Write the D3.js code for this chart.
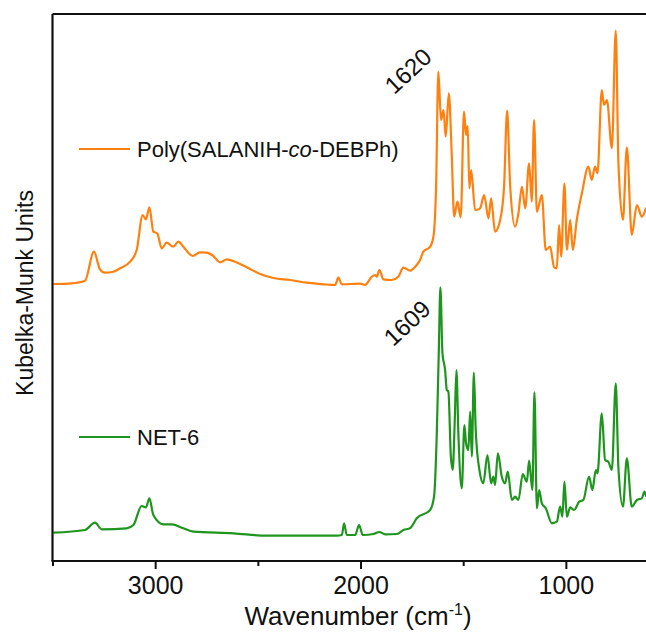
<!DOCTYPE html>
<html>
<head>
<meta charset="utf-8">
<script src="https://cdn.jsdelivr.net/npm/d3@7"></script>
<style>
  html, body { margin: 0; padding: 0; background: #fff; }
  svg { display: block; }
  text { font-family: "Liberation Sans", Arial, sans-serif; fill: #111; }
</style>
</head>
<body>
<svg id="chart" width="646" height="633"></svg>
<script>
// ---- Data (wavenumber in cm^-1, Kubelka-Munk units, offset-stacked) ----
const polyWavenumber = [3496,3406,3342,3298,3269,3244,3204,3171,3122,3090,3061,3045,3028,3009,2990,2968,2944,2912,2887,2863,2817,2782,2749,2717,2684,2651,2611,2554,2489,2424,2343,2262,2181,2124,2108,2091,2002,1978,1945,1929,1921,1908,1889,1848,1816,1791,1759,1734,1710,1694,1661,1645,1632,1621,1608,1596,1585,1570,1556,1544,1528,1512,1496,1486,1478,1470,1461,1442,1418,1398,1377,1364,1345,1320,1301,1286,1271,1247,1231,1214,1198,1179,1166,1155,1141,1117,1098,1077,1057,1044,1033,1023,1007,995,979,966,947,922,890,874,858,846,825,814,800,776,757,744,722,703,679,654,630,609];
const polyKM = [277,277.7,280.3,309.3,291.7,288.3,289.3,292.7,299.3,311,346,341.7,353.7,329.3,327.7,312.7,318.3,314.3,319.3,314.3,305,308.7,308.3,305,298.7,301.7,299.3,293.7,287,283,281,278.3,276.7,276,283.3,276.7,277.3,276,284.3,286,284.3,291,281.7,281,284.3,293.3,290.3,294.3,301,309.3,314.3,324.3,374.3,489.3,441,451,424.3,467.7,407.7,344.3,359.3,343.7,449.3,426,435,372.7,391,351,352.7,366,342.7,362.7,329.3,341,374.3,450.3,374.3,334.3,347.7,374.3,352.7,397.7,359.3,441,349.3,366,311,314.3,293.7,292.7,336,304.3,377.7,311,341,311,341,367.7,394.3,381,394.3,387.7,471,456,461,412.7,530.3,397.7,341,413.7,326,356,344.3,353.3];

const netWavenumber = [3496,3342,3293,3260,3139,3106,3066,3045,3028,3009,2960,2919,2863,2814,2619,2457,2116,2091,2080,2067,2026,2007,1989,1937,1908,1880,1823,1791,1759,1726,1661,1642,1629,1619,1611,1601,1588,1580,1572,1560,1551,1541,1533,1523,1507,1494,1486,1475,1466,1458,1448,1439,1421,1402,1382,1364,1353,1345,1331,1312,1296,1283,1263,1247,1231,1210,1190,1179,1163,1153,1141,1130,1117,1098,1068,1044,1028,1017,1007,995,979,960,935,915,887,871,854,846,825,809,793,776,757,744,722,703,679,654,630,617,609];
const netKM = [28.3,31,38.3,31.7,32.7,36,55,53.7,62.7,46,36.7,36.7,32.7,29.3,27.7,25.3,25.3,26,37.7,26,26,36,26,27,29,26.7,27,31,32.7,42.7,51,64.3,124.3,207.7,273.7,207.7,191,171,169.3,104.3,91,141,191,124.3,72.7,136,117.7,111,149.3,104.3,188.3,131,91,77.7,106,77.7,84.3,76,107.7,84.3,77.7,89.3,61,64.3,61,87,79.3,100.3,71,168.7,52.7,71,57.7,52.7,37.7,39.3,54.3,44.3,79.3,44.3,53.7,51,59.3,61,84.3,71,91,87.7,147.7,101,99.3,91,177.7,92.7,54.3,102.7,54.3,61,62.7,69.3,64.3];

const seriesNames = ["Poly(SALANIH-co-DEBPh)", "NET-6"];
const seriesColors = ["#FF800F", "#1E961E"];
const peakLabels = ["1620", "1609"];
const xTickValues = [3500, 3000, 2500, 2000, 1500, 1000];
const xTickLabels = ["", "3000", "", "2000", "", "1000"];

// ---- Layout ----
const svg = d3.select("#chart");
const mLeft = 52.5, mTop = 14, mBottom = 561;
const x = d3.scaleLinear().domain([3500, 600]).range([mLeft, 648]);
const y = d3.scaleLinear().domain([0, 547]).range([mBottom, mTop]);

const line = d3.line().x(d => x(d[0])).y(d => y(d[1])).curve(d3.curveMonotoneX);

const series = [
  { name: seriesNames[0], color: seriesColors[0], pts: d3.zip(polyWavenumber, polyKM) },
  { name: seriesNames[1], color: seriesColors[1], pts: d3.zip(netWavenumber, netKM) }
];

// curves
svg.append("g").selectAll("path").data(series).join("path")
  .attr("d", d => line(d.pts))
  .attr("fill", "none")
  .attr("stroke", d => d.color)
  .attr("stroke-width", 2.2)
  .attr("stroke-linejoin", "round");

// frame: top and left lines
svg.append("line").attr("x1", mLeft).attr("x2", 646).attr("y1", mTop).attr("y2", mTop)
  .attr("stroke", "#111").attr("stroke-width", 2.2);
svg.append("line").attr("x1", mLeft).attr("x2", mLeft).attr("y1", mTop).attr("y2", mBottom)
  .attr("stroke", "#111").attr("stroke-width", 2.2);

// bottom axis
const xAxis = d3.axisBottom(x)
  .tickValues(xTickValues)
  .tickSize(0)
  .tickFormat((d, i) => xTickLabels[i]);
const gx = svg.append("g").attr("transform", `translate(0,${mBottom})`).call(xAxis);
gx.select(".domain").remove();
gx.append("line").attr("x1", mLeft - 1).attr("x2", 646).attr("y1", 0).attr("y2", 0)
  .attr("stroke", "#111").attr("stroke-width", 2.2);
gx.selectAll(".tick line")
  .attr("y2", (d, i) => xTickLabels[i] ? 8 : 5)
  .attr("stroke", "#111").attr("stroke-width", 2);
gx.selectAll(".tick text")
  .attr("y", 33).attr("dy", 0)
  .style("font-size", "25px")
  .style("font-family", "'Liberation Sans', Arial, sans-serif")
  .attr("fill", "#111");

// x title
const xt = svg.append("text").attr("x", 358).attr("y", 625)
  .attr("text-anchor", "middle").style("font-size", "26px");
xt.append("tspan").text("Wavenumber (cm");
xt.append("tspan").text("-1").attr("dy", -10).style("font-size", "16px");
xt.append("tspan").text(")").attr("dy", 10);

// y title
svg.append("text")
  .attr("transform", "translate(33,293) rotate(-90)")
  .attr("text-anchor", "middle")
  .style("font-size", "23px")
  .text("Kubelka-Munk Units");

// legends
const legendY = [149, 437];
series.forEach((s, i) => {
  svg.append("line").attr("x1", 79).attr("x2", 130)
    .attr("y1", legendY[i]).attr("y2", legendY[i])
    .attr("stroke", s.color).attr("stroke-width", 2.2);
});
const lg0 = svg.append("text").attr("x", 137).attr("y", legendY[0] + 8).style("font-size", "22px");
lg0.append("tspan").text("Poly(SALANIH-");
lg0.append("tspan").text("co").style("font-style", "italic");
lg0.append("tspan").text("-DEBPh)");
svg.append("text").attr("x", 137).attr("y", legendY[1] + 8).style("font-size", "22px").text(seriesNames[1]);

// peak annotations
const peakCenters = [[408, 71], [407, 323]];
peakLabels.forEach((t, i) => {
  svg.append("text")
    .attr("transform", `translate(${peakCenters[i][0]},${peakCenters[i][1]}) rotate(-43)`)
    .attr("text-anchor", "middle").attr("dy", "0.35em")
    .style("font-size", "24px")
    .text(t);
});
</script>
</body>
</html>
